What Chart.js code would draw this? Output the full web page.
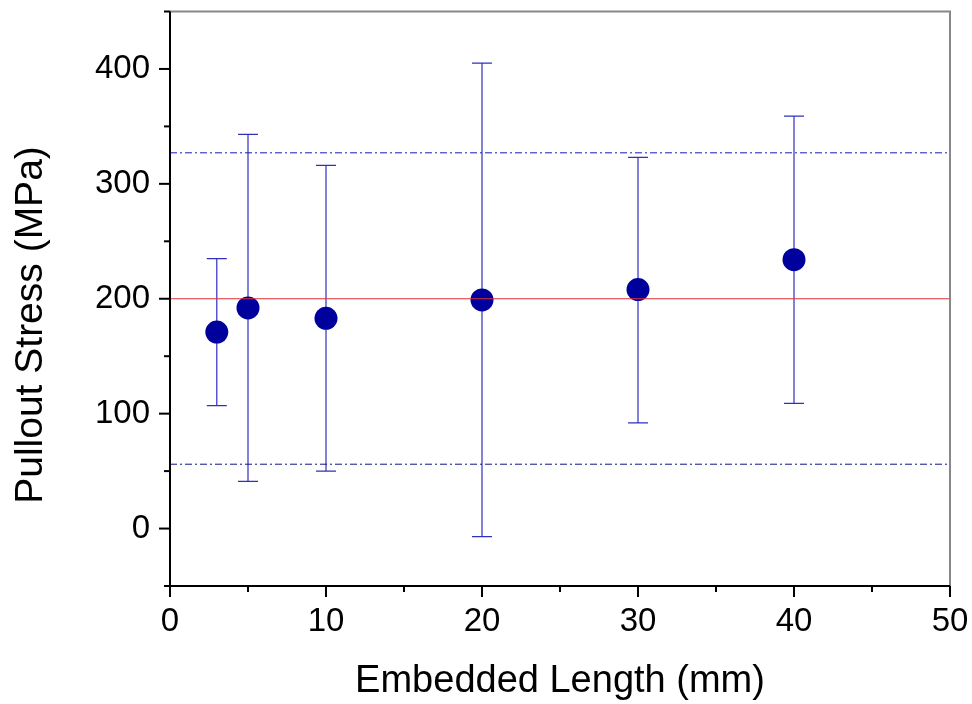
<!DOCTYPE html>
<html>
<head>
<meta charset="utf-8">
<script src="https://cdn.jsdelivr.net/npm/chart.js@4.4.0/dist/chart.umd.min.js"></script>
<style>
  html, body { margin: 0; padding: 0; background: #fff; }
  canvas { display: block; }
</style>
</head>
<body>
<canvas id="grafico" width="972" height="704"></canvas>
<script>
// dados
const comprimentos = [3, 5, 10, 20, 30, 40];           // Embedded Length (mm)
const tensoes = [171, 192, 183, 199, 208, 234];         // Pullout Stress (MPa)
const erroSup = [235, 343, 316, 405, 323, 359];         // topo da barra de erro
const erroInf = [107, 41, 50, -7, 92, 109];             // base da barra de erro
const media = 200;
const limiteSup = 327;
const limiteInf = 56;
const xLimites = [0, 50];
const yLimites = [-50, 450];
const tituloY = 'Pullout Stress (MPa)';

const fonte = "'Liberation Sans', Arial, sans-serif";

const linhaRef = (valor, cor, dash) => ({
    type: 'line',
    data: xLimites.map(x => ({ x: x, y: valor })),
    borderColor: cor,
    borderWidth: 1,
    borderDash: dash,
    pointRadius: 0,
    fill: false,
    order: 0
});

// sem folga extra dos rótulos
const semPadding = s => { s.paddingTop = 0; s.paddingBottom = 0; s.paddingLeft = 0; s.paddingRight = 0; };

// barras de erro + moldura com ticks + título do eixo y
const errosPlugin = {
    id: 'erros',
    beforeDatasetsDraw(chart) {
        const { ctx, scales: { x, y } } = chart;
        ctx.save();
        ctx.strokeStyle = '#3030c0';
        ctx.lineWidth = 1.2;
        comprimentos.forEach((c, i) => {
            const px = x.getPixelForValue(c);
            const top = y.getPixelForValue(erroSup[i]);
            const bot = y.getPixelForValue(erroInf[i]);
            ctx.beginPath();
            ctx.moveTo(px, top); ctx.lineTo(px, bot);
            ctx.moveTo(px - 10, top); ctx.lineTo(px + 10, top);
            ctx.moveTo(px - 10, bot); ctx.lineTo(px + 10, bot);
            ctx.stroke();
        });
        ctx.restore();
    },
    afterDraw(chart) {
        const { ctx, chartArea: a, scales: { x, y } } = chart;
        ctx.save();
        ctx.lineWidth = 2;
        ctx.strokeStyle = '#888';
        ctx.beginPath();
        ctx.moveTo(a.left, a.top); ctx.lineTo(a.right, a.top); ctx.lineTo(a.right, a.bottom);
        ctx.stroke();
        ctx.strokeStyle = '#000';
        ctx.beginPath();
        ctx.moveTo(a.left, a.top); ctx.lineTo(a.left, a.bottom); ctx.lineTo(a.right, a.bottom);
        ctx.stroke();
        for (let v = yLimites[0]; v <= yLimites[1]; v += 50) {
            const py = y.getPixelForValue(v);
            const len = v % 100 === 0 ? 11 : 6;
            ctx.beginPath(); ctx.moveTo(a.left - len, py); ctx.lineTo(a.left, py); ctx.stroke();
        }
        for (let v = xLimites[0]; v <= xLimites[1]; v += 5) {
            const px = x.getPixelForValue(v);
            const len = v % 10 === 0 ? 11 : 6;
            ctx.beginPath(); ctx.moveTo(px, a.bottom); ctx.lineTo(px, a.bottom + len); ctx.stroke();
        }
        // título vertical, um pouco abaixo do centro como no original
        ctx.translate(42, 325);
        ctx.rotate(-Math.PI / 2);
        ctx.fillStyle = '#000';
        ctx.font = '39px ' + fonte;
        ctx.textAlign = 'center';
        ctx.textBaseline = 'alphabetic';
        ctx.fillText(tituloY, 0, 0);
        ctx.restore();
    }
};

new Chart(document.getElementById('grafico'), {
    type: 'scatter',
    data: {
        datasets: [
            linhaRef(media, '#e0303a', []),
            linhaRef(limiteSup, '#1818c0', [7, 3, 2, 3]),
            linhaRef(limiteInf, '#121285', [7, 3, 2, 3]),
            {
                data: comprimentos.map((c, i) => ({ x: c, y: tensoes[i] })),
                backgroundColor: '#00009c',
                borderColor: '#00009c',
                pointRadius: 11.5,
                pointHoverRadius: 11.5,
                borderWidth: 0,
                order: 1
            }
        ]
    },
    options: {
        responsive: false,
        animation: false,
        devicePixelRatio: 1,
        layout: { padding: { top: 8, right: 22, left: 0, bottom: 0 } },
        plugins: { legend: { display: false }, tooltip: { enabled: false } },
        scales: {
            x: {
                type: 'linear',
                min: xLimites[0], max: xLimites[1],
                grid: { display: false, drawTicks: false },
                border: { display: false },
                ticks: { stepSize: 10, padding: 16, color: '#000', font: { family: fonte, size: 33 } },
                title: { display: true, text: 'Embedded Length (mm)', color: '#000',
                    font: { family: fonte, size: 38, lineHeight: 1.2 }, padding: 0 },
                afterFit(s) { s.height = 118; semPadding(s); }
            },
            y: {
                min: yLimites[0], max: yLimites[1],
                grid: { display: false, drawTicks: false },
                border: { display: false },
                ticks: { stepSize: 50, padding: 20, color: '#000', font: { family: fonte, size: 33 },
                    callback: v => (v % 100 === 0 ? v : '') },
                title: { display: false },
                afterFit(s) { s.width = 170; semPadding(s); }
            }
        }
    },
    plugins: [errosPlugin]
});
</script>
</body>
</html>
